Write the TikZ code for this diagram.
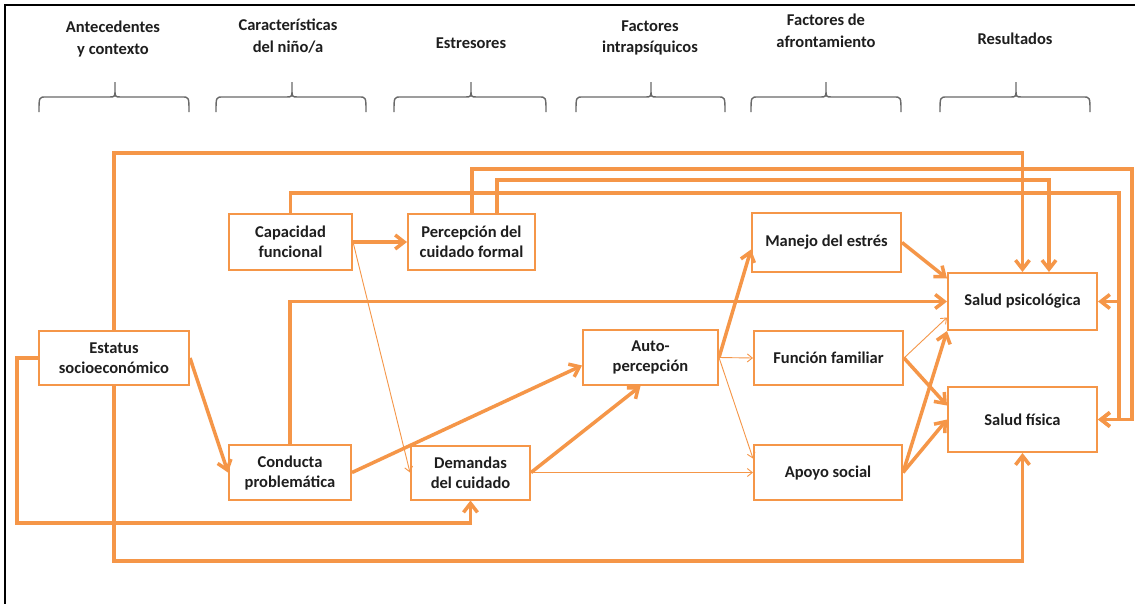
\documentclass[tikz,border=0pt]{standalone}
\usepackage{fontspec}
\setmainfont{Carlito}
\usetikzlibrary{arrows.meta,calc}
\definecolor{accent}{RGB}{245,150,72}
\definecolor{bracegray}{RGB}{105,105,105}
\definecolor{ink}{RGB}{30,30,30}

\begin{document}
\begin{tikzpicture}[x=1pt,y=-1pt,
  box/.style={draw=accent,line width=2pt,fill=white,rectangle,inner sep=0pt,
    align=center,font=\fontsize{16.5}{20}\selectfont\bfseries,text=ink},
  heading/.style={align=center,font=\fontsize{16.5}{21.5}\selectfont\bfseries,text=ink},
  link/.style={draw=accent,line width=3.5pt,-{Straight Barb[length=9pt,width=14pt]}},
  fine/.style={draw=accent,line width=0.9pt,-{Straight Barb[length=5pt,width=8pt]}},
  bracket/.style={draw=bracegray,line width=1.4pt}
]
\useasboundingbox (0,0) rectangle (1135,603);
\clip (0,0) rectangle (1135,603);
\fill[white] (0,0) rectangle (1135,603);

% outer frame (runs past the right and bottom edges)
\draw[line width=2.5pt] (5,5) rectangle (1160,630);

% column headings
\node[heading] (h1) at (113,39) {Antecedentes\\y contexto};
\node[heading] (h2) at (288,36) {Características\\del niño/a};
\node[heading] (h3) at (471,43) {Estresores};
\node[heading] (h4) at (650,38) {Factores\\intrapsíquicos};
\node[heading] (h5) at (826,31) {Factores de\\afrontamiento};
\node[heading] (h6) at (1015,39) {Resultados};

% braces under the headings
\foreach \a/\m/\b in {39/115/189, 216/292/366, 394/471/546, 576/651/725, 751/826/901, 940/1016/1090}
  \draw[bracket] (\a,112) .. controls (\a,97) .. (\a+7,97) -- (\m-6,97)
    .. controls (\m,97) .. (\m,89) -- (\m,82) -- (\m,89)
    .. controls (\m,97) .. (\m+6,97) -- (\b-7,97) .. controls (\b,97) .. (\b,112);

% boxes
\node[box,minimum width=150pt,minimum height=54pt] (est) at (114,358) {Estatus\\socioeconómico};
\node[box,minimum width=123pt,minimum height=56pt] (cap) at (290.5,242) {Capacidad\\funcional};
\node[box,minimum width=127pt,minimum height=56pt] (per) at (471.5,242) {Percepción del\\cuidado formal};
\node[box,minimum width=122pt,minimum height=55pt] (con) at (290,472.5) {Conducta\\problemática};
\node[box,minimum width=119pt,minimum height=54pt] (dem) at (470.5,472.5) {Demandas\\del cuidado};
\node[box,minimum width=135pt,minimum height=55pt] (auto) at (650.5,357.5) {Auto-\\percepción};
\node[box,minimum width=149pt,minimum height=59pt] (man) at (826.5,242.5) {Manejo del estrés};
\node[box,minimum width=149pt,minimum height=54pt] (fun) at (828.5,358) {Función familiar};
\node[box,minimum width=148pt,minimum height=55pt] (apo) at (828,472.5) {Apoyo social};
\node[box,minimum width=149pt,minimum height=57pt] (sps) at (1022.5,301.5) {Salud psicológica};
\node[box,minimum width=149pt,minimum height=65pt] (sfi) at (1022.5,419.5) {Salud física};

% routing levels for the long connectors
\coordinate (yA) at (0,153);
\coordinate (yB) at (0,169);
\coordinate (yC) at (0,180);
\coordinate (yD) at (0,193);
\coordinate (yL) at (0,523);
\coordinate (yE) at (0,561);
\coordinate (xL) at (17,0);
\coordinate (xC) at (1049,0);
\coordinate (xD) at (1119,0);
\coordinate (xB) at (1132,0);
\coordinate (perL) at ($(per.north)+(0.5,0)$);
\coordinate (perR) at ($(per.north)+(25.5,0)$);

% direct links
\draw[link] (cap.east) -- (per.west);
\draw[fine] (cap.east) -- (dem.west);
\draw[link] (est.east) -- (con.west);
\draw[link] (con.east) -- ($(auto.west)+(0,8)$);
\draw[link] (dem.east) -- ($(auto.south)+(-10,0)$);
\draw[fine] (dem.east) -- (apo.west);
\draw[link] (auto.east) -- ($(man.west)+(0,7)$);
\draw[fine] (auto.east) -- (fun.west);
\draw[fine] (auto.east) -- ($(apo.west)+(0,-14)$);
\draw[link] (man.east) -- ($(sps.west)+(0,-23)$);
\draw[link] (con.north) |- (sps.west);
\draw[fine] (fun.east) -- ($(sps.west)+(0,16)$);
\draw[link] (apo.east) -- (sps.south west);
\draw[link] (fun.east) -- ($(sfi.west)+(0,-14)$);
\draw[link] (apo.east) -- (sfi.west);

% long routed links
\draw[link] (est.north) -- (est.north |- yA) -| (sps.north);
\draw[link] (perL) -- (perL |- yB) -| (xB |- sfi.east) -- (sfi.east);
\draw[link] (perR) -- (perR |- yC) -| (xC |- sps.north);
\draw[link] (cap.north) -- (cap.north |- yD) -| (xD |- sps.east) -- (sps.east);
\draw[link] (xD |- sps.east) |- (sfi.east);
\draw[link] (est.west) -| (xL |- yL) -| (dem.south);
\draw[link] (est.south) -- (est.south |- yE) -| (sfi.south);
\end{tikzpicture}
\end{document}
